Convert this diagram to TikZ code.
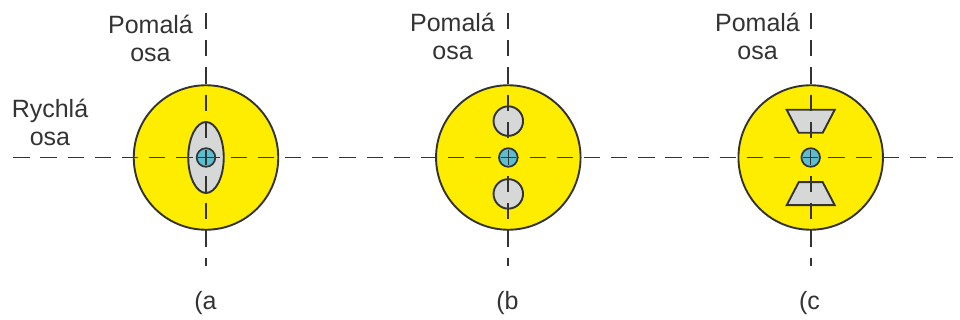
\documentclass[tikz,border=0pt]{standalone}
\usepackage{fontspec}
\setmainfont{Liberation Sans}
\usepackage{xcolor}
\usetikzlibrary{shapes.geometric,positioning}
\definecolor{fibreyellow}{HTML}{FFED00}
\definecolor{stressgray}{HTML}{D6D8D8}
\definecolor{corecyan}{HTML}{5BBDD0}
\definecolor{inkgray}{HTML}{333333}
\begin{document}
\begin{tikzpicture}[
            x=1pt, y=-1pt,
            disk/.style={circle, draw=inkgray, line width=1.9pt, fill=fibreyellow, minimum size=144.5pt, inner sep=0pt},
            stress/.style={draw=inkgray, line width=1.9pt, fill=stressgray, inner sep=0pt},
            hole/.style={stress, circle, minimum size=29.5pt},
            oval/.style={stress, ellipse, minimum width=35.5pt, minimum height=71pt},
            wedge/.style={stress, trapezium, inner sep=1pt, trapezium angle=63.4, minimum width=48pt, minimum height=23pt, trapezium stretches=true},
            core/.style={circle, draw=inkgray, line width=1.7pt, fill=corecyan, minimum size=18.6pt, inner sep=0pt},
            axis/.style={draw=inkgray, line width=1.9pt, dash pattern=on 16.3pt off 10.87pt},
            cross/.style={draw=inkgray, line width=1.5pt, shorten <=2.5pt, shorten >=2.5pt},
            label/.style={align=center, text=inkgray, font=\fontsize{25}{28}\selectfont, inner sep=0pt}
        ]
        \useasboundingbox (0,0) rectangle (960,320);

        % Fibre cross sections
        \node [disk] (diska) at (206,157.5) {};
        \node [disk] (diskb) at (508.3,157.5) {};
        \node [disk] (diskc) at (810.7,157.5) {};

        % Stress parts
        \node [oval] (ovala) at (diska.center) {};
        \node [hole, above of=diskb, node distance=36.4pt] (holeup) {};
        \node [hole, below of=diskb, node distance=36.4pt] (holedown) {};
        \node [wedge, shape border rotate=180, above of=diskc, node distance=36.2pt] (wedgeup) {};
        \node [wedge, below of=diskc, node distance=36.2pt] (wedgedown) {};

        % Axes
        \coordinate (fastleft) at (13.3,157.5);
        \coordinate (fastright) at (955,157.5);
        \coordinate (slowatop) at (206,13);
        \coordinate (slowabot) at (206,266);
        \coordinate (slowbtop) at (508.3,13);
        \coordinate (slowbbot) at (508.3,266);
        \coordinate (slowctop) at (810.7,13);
        \coordinate (slowcbot) at (810.7,266);
        \path [axis] (fastleft) -- (fastright);
        \path [axis] (slowatop) -- (slowabot);
        \path [axis] (slowbtop) -- (slowbbot);
        \path [axis] (slowctop) -- (slowcbot);

        % Cores
        \node [core] (corea) at (diska.center) {};
        \node [core] (coreb) at (diskb.center) {};
        \node [core] (corec) at (diskc.center) {};
        \path [cross] (corea.north) -- (corea.south);
        \path [cross] (corea.west) -- (corea.east);
        \path [cross] (coreb.north) -- (coreb.south);
        \path [cross] (coreb.west) -- (coreb.east);
        \path [cross] (corec.north) -- (corec.south);
        \path [cross] (corec.west) -- (corec.east);

        % Labels
        \node [label] (slowa) at (150.5,38.5) {Pomalá\\osa};
        \node [label] (slowb) at (452.5,36) {Pomalá\\osa};
        \node [label] (slowc) at (757.5,36) {Pomalá\\osa};
        \node [label] (fast) at (50,122) {Rychlá\\osa};
        \node [label] (capa) at (205.5,303) {(a};
        \node [label] (capb) at (507.5,303) {(b};
        \node [label] (capc) at (809.5,303) {(c};

    \end{tikzpicture}
\end{document}
